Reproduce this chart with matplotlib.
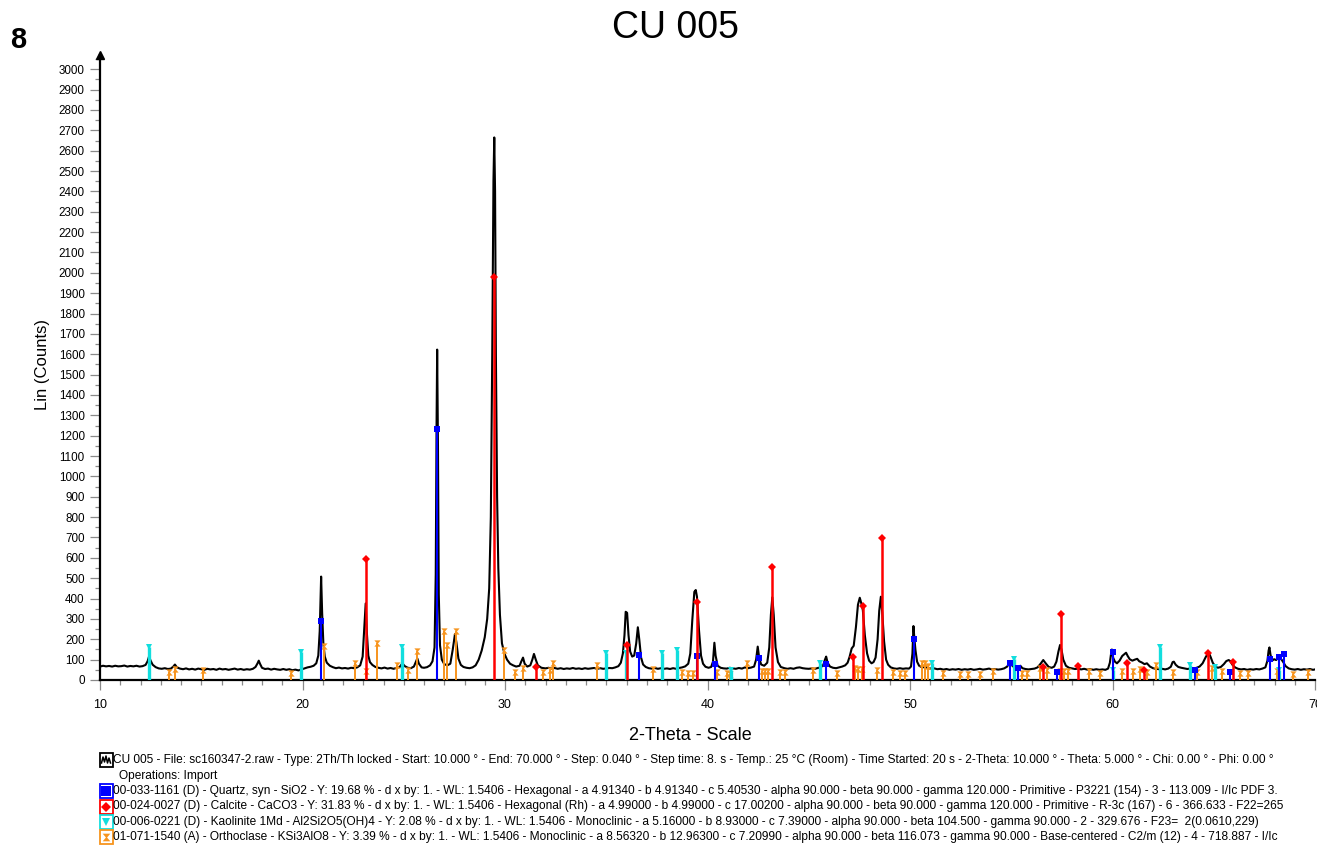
import matplotlib
matplotlib.use("Agg")
import matplotlib.pyplot as plt
from matplotlib.path import Path
from matplotlib.patches import Rectangle
from matplotlib.lines import Line2D
from matplotlib.ticker import MultipleLocator

plt.rcParams['font.family'] = ['Liberation Sans', 'DejaVu Sans']

# ---------------- data ----------------
title = "CU 005"
panel_label = "8"
x_label = "2-Theta - Scale"
y_label = "Lin (Counts)"

trace_points = [
    (10.0, 66), (10.15, 70), (10.3, 67), (10.45, 69), (10.6, 66), (10.75, 70), (10.9, 67), (11.05, 68),
    (11.2, 71), (11.35, 66), (11.5, 69), (11.65, 67), (11.8, 70), (11.95, 66), (12.1, 68), (12.25, 74),
    (12.35, 92), (12.42, 115), (12.5, 95), (12.6, 75), (12.75, 63), (12.9, 57), (13.05, 55), (13.2, 58),
    (13.35, 54), (13.5, 56), (13.62, 66), (13.7, 76), (13.8, 62), (13.95, 56), (14.1, 53), (14.25, 57),
    (14.4, 52), (14.55, 55), (14.7, 51), (14.85, 56), (15.0, 53), (15.15, 50), (15.3, 55), (15.45, 52),
    (15.6, 54), (15.75, 50), (15.9, 56), (16.05, 52), (16.2, 54), (16.35, 50), (16.5, 53), (16.65, 56),
    (16.8, 51), (16.95, 54), (17.1, 50), (17.25, 53), (17.4, 51), (17.55, 55), (17.68, 64), (17.78, 82),
    (17.84, 95), (17.9, 80), (18.0, 60), (18.15, 54), (18.3, 56), (18.45, 51), (18.6, 55), (18.75, 52),
    (18.9, 50), (19.05, 54), (19.2, 50), (19.35, 53), (19.5, 48), (19.65, 51), (19.8, 47), (19.95, 52),
    (20.1, 57), (20.25, 62), (20.4, 65), (20.55, 70), (20.68, 82), (20.78, 120), (20.85, 240), (20.92, 508),
    (20.97, 330), (21.03, 180), (21.1, 115), (21.2, 85), (21.35, 70), (21.5, 63), (21.65, 58), (21.8, 61),
    (21.95, 57), (22.1, 59), (22.25, 56), (22.4, 60), (22.55, 58), (22.7, 62), (22.85, 72), (22.97, 115),
    (23.05, 250), (23.12, 376), (23.18, 230), (23.25, 120), (23.33, 88), (23.45, 74), (23.6, 64), (23.75, 60),
    (23.9, 57), (24.05, 61), (24.2, 56), (24.35, 59), (24.5, 55), (24.65, 60), (24.8, 64), (24.93, 82),
    (25.05, 68), (25.2, 60), (25.35, 58), (25.5, 66), (25.6, 90), (25.67, 106), (25.75, 80), (25.88, 62),
    (26.0, 60), (26.15, 63), (26.3, 72), (26.42, 92), (26.52, 160), (26.58, 520), (26.62, 1250), (26.65, 1623),
    (26.69, 1150), (26.73, 420), (26.79, 170), (26.88, 100), (27.0, 78), (27.15, 72), (27.3, 80), (27.42, 150),
    (27.53, 226), (27.6, 185), (27.7, 105), (27.82, 74), (27.95, 64), (28.1, 60), (28.25, 58), (28.4, 62),
    (28.55, 72), (28.7, 100), (28.85, 145), (29.0, 210), (29.12, 300), (29.22, 450), (29.3, 800), (29.37, 1600),
    (29.43, 2450), (29.47, 2665), (29.51, 2400), (29.55, 1600), (29.61, 900), (29.67, 550), (29.75, 320), (29.85, 180),
    (29.97, 130), (30.1, 100), (30.25, 80), (30.4, 72), (30.55, 66), (30.72, 70), (30.8, 90), (30.89, 110),
    (30.97, 80), (31.1, 66), (31.25, 72), (31.35, 100), (31.43, 128), (31.52, 100), (31.62, 72), (31.8, 60),
    (32.0, 57), (32.15, 60), (32.3, 56), (32.45, 59), (32.6, 55), (32.75, 58), (32.9, 54), (33.05, 57),
    (33.2, 55), (33.35, 59), (33.5, 55), (33.65, 57), (33.8, 54), (33.95, 58), (34.1, 55), (34.25, 57),
    (34.4, 59), (34.55, 55), (34.7, 58), (34.85, 55), (35.0, 57), (35.15, 59), (35.3, 58), (35.45, 62),
    (35.6, 68), (35.72, 85), (35.82, 130), (35.9, 220), (35.96, 335), (36.03, 330), (36.1, 220), (36.18, 140),
    (36.28, 115), (36.38, 120), (36.48, 180), (36.56, 259), (36.63, 200), (36.72, 110), (36.82, 76), (36.95, 64),
    (37.1, 58), (37.25, 56), (37.4, 59), (37.55, 55), (37.7, 58), (37.85, 55), (38.0, 57), (38.15, 54),
    (38.3, 58), (38.45, 55), (38.6, 59), (38.75, 62), (38.9, 67), (39.05, 80), (39.15, 130), (39.25, 295),
    (39.35, 433), (39.42, 442), (39.48, 409), (39.58, 245), (39.68, 120), (39.78, 80), (39.9, 65), (40.05, 60),
    (40.18, 64), (40.27, 90), (40.34, 183), (40.4, 120), (40.5, 70), (40.65, 60), (40.8, 57), (40.95, 56),
    (41.1, 60), (41.25, 57), (41.4, 55), (41.55, 59), (41.7, 56), (41.85, 62), (42.0, 58), (42.15, 61),
    (42.3, 66), (42.4, 100), (42.48, 164), (42.55, 110), (42.65, 76), (42.8, 70), (42.95, 85), (43.05, 160),
    (43.13, 320), (43.2, 406), (43.27, 320), (43.36, 160), (43.48, 88), (43.62, 64), (43.8, 58), (43.95, 55),
    (44.1, 58), (44.25, 55), (44.4, 60), (44.55, 62), (44.7, 58), (44.85, 56), (45.0, 55), (45.15, 57),
    (45.3, 55), (45.45, 59), (45.6, 62), (45.72, 75), (45.8, 100), (45.86, 115), (45.93, 85), (46.05, 66),
    (46.2, 60), (46.35, 58), (46.5, 62), (46.65, 66), (46.8, 72), (46.92, 85), (47.02, 115), (47.12, 155),
    (47.22, 168), (47.33, 260), (47.43, 370), (47.52, 404), (47.6, 375), (47.67, 344), (47.77, 220), (47.88, 131),
    (47.98, 95), (48.1, 82), (48.2, 88), (48.3, 110), (48.4, 200), (48.48, 340), (48.56, 409), (48.63, 330),
    (48.72, 190), (48.82, 100), (48.92, 75), (49.05, 62), (49.2, 57), (49.35, 55), (49.5, 58), (49.65, 55),
    (49.8, 57), (49.95, 56), (50.05, 66), (50.12, 130), (50.17, 265), (50.22, 200), (50.27, 147), (50.35, 90),
    (50.45, 70), (50.6, 62), (50.75, 64), (50.9, 58), (51.05, 56), (51.2, 57), (51.35, 53), (51.5, 55),
    (51.65, 51), (51.8, 54), (51.95, 50), (52.1, 53), (52.25, 51), (52.4, 54), (52.55, 50), (52.7, 53),
    (52.85, 51), (53.0, 54), (53.15, 50), (53.3, 52), (53.45, 55), (53.6, 51), (53.75, 53), (53.9, 56),
    (54.05, 52), (54.2, 54), (54.35, 51), (54.5, 53), (54.65, 57), (54.8, 66), (54.9, 85), (54.95, 90),
    (55.05, 70), (55.2, 58), (55.35, 62), (55.45, 70), (55.55, 58), (55.7, 54), (55.85, 52), (56.0, 54),
    (56.15, 56), (56.3, 62), (56.45, 80), (56.58, 98), (56.7, 82), (56.85, 64), (57.0, 60), (57.12, 66),
    (57.23, 90), (57.33, 140), (57.41, 172), (57.48, 150), (57.57, 100), (57.7, 70), (57.85, 60), (58.0, 57),
    (58.15, 54), (58.3, 56), (58.45, 52), (58.6, 55), (58.75, 51), (58.9, 54), (59.05, 50), (59.2, 53),
    (59.35, 50), (59.5, 52), (59.65, 50), (59.78, 56), (59.87, 85), (59.93, 130), (59.97, 150), (60.03, 110),
    (60.12, 90), (60.22, 82), (60.35, 95), (60.48, 118), (60.6, 128), (60.67, 134), (60.75, 118), (60.85, 102),
    (60.98, 95), (61.1, 100), (61.22, 104), (61.32, 92), (61.45, 86), (61.58, 78), (61.7, 82), (61.85, 66),
    (62.0, 58), (62.15, 55), (62.3, 53), (62.45, 55), (62.6, 52), (62.75, 56), (62.88, 65), (62.97, 88),
    (63.03, 90), (63.12, 75), (63.25, 64), (63.4, 60), (63.55, 57), (63.7, 54), (63.85, 57), (64.0, 56),
    (64.15, 60), (64.3, 66), (64.45, 82), (64.6, 112), (64.7, 128), (64.77, 131), (64.85, 112), (64.95, 85),
    (65.08, 66), (65.2, 60), (65.35, 64), (65.5, 78), (65.62, 93), (65.74, 98), (65.82, 92), (65.92, 75),
    (66.05, 62), (66.2, 55), (66.35, 52), (66.5, 54), (66.65, 50), (66.8, 53), (66.95, 51), (67.1, 54),
    (67.25, 52), (67.4, 56), (67.55, 62), (67.65, 95), (67.71, 145), (67.75, 160), (67.8, 125), (67.88, 95),
    (67.98, 102), (68.08, 98), (68.18, 108), (68.27, 106), (68.35, 100), (68.45, 85), (68.55, 68), (68.7, 57),
    (68.85, 53), (69.0, 51), (69.15, 54), (69.3, 50), (69.45, 53), (69.6, 51), (69.75, 54), (69.9, 50),
    (70.0, 52),
]

# reference patterns (stick positions and heights)
quartz_pos = [20.93, 26.64, 36.62, 39.50, 40.37, 42.54, 45.85, 50.21, 54.94, 55.35, 57.27, 60.02,
              64.07, 65.80, 67.80, 68.24, 68.47]
quartz_h = [292, 1231, 123, 120, 80, 106, 80, 200, 85, 57, 41, 137, 49, 41, 104, 114, 128]

calcite_pos = [23.12, 29.48, 31.53, 36.03, 39.47, 43.20, 47.20, 47.69, 48.63, 56.58, 57.44, 58.31,
               60.71, 61.54, 64.73, 65.95]
calcite_h = [594, 1980, 62, 170, 384, 556, 111, 365, 696, 65, 322, 69, 85, 50, 134, 86]

kaolinite_pos = [12.42, 19.93, 24.93, 34.99, 35.98, 37.74, 38.48, 41.16, 45.56, 51.07, 55.14, 60.04,
                 62.37, 63.82, 65.08, 68.24]
kaolinite_h = [160, 136, 162, 134, 134, 134, 147, 49, 84, 85, 101, 49, 162, 74, 63, 49]

orthoclase_pos = [13.42, 13.70, 15.10, 19.42, 21.08, 22.58, 23.14, 23.66, 24.65, 25.23, 25.67, 26.99,
                  27.12, 27.58, 29.97, 30.48, 30.87, 31.89, 32.22, 32.39, 34.53, 37.33, 38.72, 39.05,
                  39.30, 40.45, 40.95, 41.11, 41.93, 42.68, 42.84, 43.00, 43.58, 43.83, 45.22, 46.38,
                  47.28, 47.45, 47.61, 48.35, 49.18, 49.51, 49.75, 50.60, 50.74, 50.90, 51.64, 52.47,
                  52.88, 53.46, 54.11, 55.51, 55.76, 56.42, 56.75, 57.41, 57.60, 57.82, 58.85, 59.38,
                  60.45, 61.03, 61.36, 61.69, 62.15, 63.00, 64.15, 64.90, 65.40, 66.30, 66.71, 68.11,
                  68.93, 69.67]
orthoclase_h = [41, 52, 49, 36, 165, 82, 46, 183, 74, 48, 140, 240,
                170, 240, 149, 41, 57, 41, 49, 82, 74, 52, 41, 36,
                36, 41, 36, 31, 85, 46, 46, 46, 41, 41, 49, 36,
                57, 52, 52, 49, 41, 36, 36, 82, 85, 67, 33, 31,
                31, 31, 46, 36, 36, 57, 49, 46, 46, 46, 46, 36,
                46, 46, 52, 41, 74, 41, 41, 57, 46, 36, 36, 46,
                31, 41]

legend_lines = [
    "CU 005 - File: sc160347-2.raw - Type: 2Th/Th locked - Start: 10.000 \u00b0 - End: 70.000 \u00b0 - Step: 0.040 \u00b0 - Step time: 8. s - Temp.: 25 \u00b0C (Room) - Time Started: 20 s - 2-Theta: 10.000 \u00b0 - Theta: 5.000 \u00b0 - Chi: 0.00 \u00b0 - Phi: 0.00 \u00b0",
    "Operations: Import",
    "00-033-1161 (D) - Quartz, syn - SiO2 - Y: 19.68 % - d x by: 1. - WL: 1.5406 - Hexagonal - a 4.91340 - b 4.91340 - c 5.40530 - alpha 90.000 - beta 90.000 - gamma 120.000 - Primitive - P3221 (154) - 3 - 113.009 - I/Ic PDF 3.",
    "00-024-0027 (D) - Calcite - CaCO3 - Y: 31.83 % - d x by: 1. - WL: 1.5406 - Hexagonal (Rh) - a 4.99000 - b 4.99000 - c 17.00200 - alpha 90.000 - beta 90.000 - gamma 120.000 - Primitive - R-3c (167) - 6 - 366.633 - F22=265",
    "00-006-0221 (D) - Kaolinite 1Md - Al2Si2O5(OH)4 - Y: 2.08 % - d x by: 1. - WL: 1.5406 - Monoclinic - a 5.16000 - b 8.93000 - c 7.39000 - alpha 90.000 - beta 104.500 - gamma 90.000 - 2 - 329.676 - F23=  2(0.0610,229)",
    "01-071-1540 (A) - Orthoclase - KSi3AlO8 - Y: 3.39 % - d x by: 1. - WL: 1.5406 - Monoclinic - a 8.56320 - b 12.96300 - c 7.20990 - alpha 90.000 - beta 116.073 - gamma 90.000 - Base-centered - C2/m (12) - 4 - 718.887 - I/Ic",
]

# ---------------- styles ----------------
W, H = 1317, 850
BLUE, RED, CYAN, ORANGE = '#0000ff', '#ff0000', '#12dede', '#f7941d'
hourglass = Path([(-1, 1), (1, 1), (0.15, 0), (1, -1), (-1, -1), (-0.15, 0), (-1, 1)], closed=True)

fig = plt.figure(figsize=(W / 100, H / 100), dpi=100)
ax = fig.add_axes([100 / W, 170 / H, 1215 / W, 625 / H])
ax.set_xlim(10, 70)
ax.set_ylim(0, 3070)

tt = [p[0] for p in trace_points]
cc = [p[1] for p in trace_points]
ax.plot(tt, cc, color='black', lw=1.5, zorder=3, solid_joinstyle='round')

phases = [
    (orthoclase_pos, orthoclase_h, ORANGE, 1.4, hourglass, 4.5),
    (kaolinite_pos, kaolinite_h, CYAN, 2.4, 'v', 5.0),
    (quartz_pos, quartz_h, BLUE, 1.5, 's', 5.0),
    (calcite_pos, calcite_h, RED, 1.8, 'D', 4.0),
]
for k, (pos, hh, col, lw, mk, ms) in enumerate(phases):
    ax.vlines(pos, 0, hh, colors=col, lw=lw, zorder=4 + k)
    ax.plot(pos, hh, ls='none', marker=mk, color=col, ms=ms, mew=0, zorder=4 + k)

for s in ('top', 'right'):
    ax.spines[s].set_visible(False)
for s in ('left', 'bottom'):
    ax.spines[s].set_linewidth(1.6)
    ax.spines[s].set_color('black')
ax.plot([10], [3070], marker='^', color='black', ms=6, clip_on=False, zorder=10)

ax.xaxis.set_major_locator(MultipleLocator(10))
ax.xaxis.set_minor_locator(MultipleLocator(1))
ax.yaxis.set_major_locator(MultipleLocator(100))
ax.yaxis.set_minor_locator(MultipleLocator(50))
ax.tick_params(axis='both', which='major', direction='out', length=7.5, width=0.9,
               color='#8a8a8a', labelsize=8.4, labelcolor='black')
ax.tick_params(axis='both', which='minor', direction='out', length=3.8, width=0.9, color='#8a8a8a')
ax.tick_params(axis='y', which='major', pad=3.5)
ax.tick_params(axis='x', which='major', pad=6, labelsize=9)

fig.text(675 / W, 1 - 28 / H, title, fontsize=27, ha='center', va='center')
fig.text(18 / W, 1 - 40 / H, panel_label, fontsize=21, fontweight='bold', ha='center', va='center')
fig.text(42 / W, 1 - 365 / H, y_label, fontsize=12, rotation=90, ha='center', va='center')
fig.text(690 / W, 1 - 735 / H, x_label, fontsize=13, ha='center', va='center')

# legend block
line_y = [760, 775.5, 791, 806.5, 822, 837]
text_x = [113, 119, 113, 113, 113, 113]
for y, x, s in zip(line_y, text_x, legend_lines):
    fig.text(x / W, 1 - y / H, s, fontsize=8.6, ha='left', va='center')

icons = [(0, 'black', None), (2, BLUE, 's'), (3, RED, 'D'), (4, CYAN, 'v'), (5, ORANGE, hourglass)]
for idx, col, mk in icons:
    yc = line_y[idx]
    fig.add_artist(Rectangle((100 / W, 1 - (yc + 7) / H), 12.5 / W, 14 / H, transform=fig.transFigure,
                             facecolor='white', edgecolor=col, lw=1.3))
    if mk is None:
        xs = [101.5, 103, 104.5, 106, 107.5, 109, 110.5]
        ys = [yc + 3, yc - 3, yc + 2, yc - 4, yc + 3, yc - 2, yc + 3]
        fig.add_artist(Line2D([v / W for v in xs], [1 - v / H for v in ys], transform=fig.transFigure,
                              color='black', lw=1.1))
    else:
        fig.add_artist(Line2D([106.25 / W], [1 - yc / H], transform=fig.transFigure, ls='none',
                              marker=mk, color=col, ms=6.5 if mk == 's' else 5.5, mew=0))

fig.savefig('out.png', dpi=100)
